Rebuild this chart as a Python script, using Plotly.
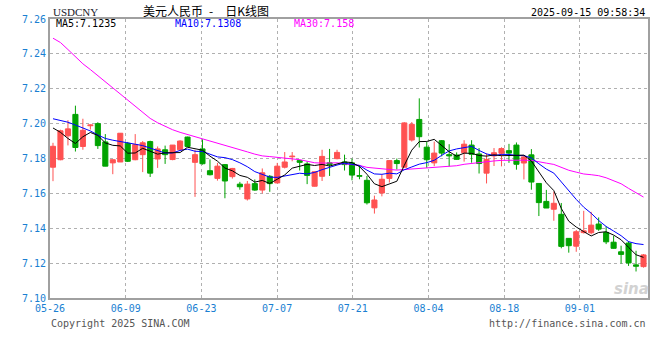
import plotly.graph_objects as go
import pandas as pd

# ---------------- data ----------------
tick_labels = ["05-26", "06-09", "06-23", "07-07", "07-21", "08-04", "08-18", "09-01"]

opens = [
    7.1750, 7.1793, 7.1930, 7.2053, 7.1869, 7.1988, 7.2000, 7.1895, 7.1775, 7.1780,
    7.1887, 7.1793, 7.1822, 7.1897, 7.1797, 7.1850, 7.1794, 7.1850, 7.1923, 7.1778,
    7.1855, 7.1730, 7.1686, 7.1765, 7.1696, 7.1653, 7.1568, 7.1656, 7.1619, 7.1698,
    7.1660, 7.1750, 7.1810, 7.1788, 7.1769, 7.1641, 7.1698, 7.1775, 7.1799, 7.1780,
    7.1775, 7.1702, 7.1675, 7.1517, 7.1602, 7.1686, 7.1788, 7.1750, 7.1906, 7.2024,
    7.1865, 7.1775, 7.1902, 7.1822, 7.1820, 7.1833, 7.1877, 7.1826, 7.1716, 7.1815,
    7.1830, 7.1845, 7.1877, 7.1774, 7.1821, 7.1657, 7.1554, 7.1509, 7.1480, 7.1342,
    7.1297, 7.1375, 7.1374, 7.1424, 7.1376, 7.1320, 7.1265, 7.1315, 7.1190, 7.1180,
]
highs = [
    7.1890, 7.1965, 7.2020, 7.2103, 7.2028, 7.1995, 7.2008, 7.1940, 7.1793, 7.1945,
    7.1895, 7.1940, 7.1900, 7.1902, 7.1869, 7.1874, 7.1877, 7.1905, 7.1925, 7.1850,
    7.1910, 7.1795, 7.1775, 7.1768, 7.1746, 7.1666, 7.1671, 7.1680, 7.1743, 7.1705,
    7.1775, 7.1837, 7.1837, 7.1793, 7.1784, 7.1726, 7.1850, 7.1855, 7.1850, 7.1822,
    7.1800, 7.1761, 7.1700, 7.1587, 7.1709, 7.1790, 7.1800, 7.2008, 7.2009, 7.2145,
    7.1897, 7.1897, 7.1906, 7.1882, 7.1835, 7.1905, 7.1905, 7.1860, 7.1829, 7.1860,
    7.1864, 7.1884, 7.1892, 7.1818, 7.1854, 7.1657, 7.1620, 7.1610, 7.1545, 7.1342,
    7.1390, 7.1500, 7.1494, 7.1462, 7.1411, 7.1357, 7.1300, 7.1326, 7.1271, 7.1252,
]
lows = [
    7.1670, 7.1790, 7.1875, 7.1840, 7.1850, 7.1966, 7.1855, 7.1756, 7.1710, 7.1780,
    7.1780, 7.1790, 7.1722, 7.1694, 7.1746, 7.1769, 7.1790, 7.1847, 7.1865, 7.1580,
    7.1765, 7.1703, 7.1673, 7.1572, 7.1685, 7.1621, 7.1559, 7.1615, 7.1600, 7.1609,
    7.1657, 7.1743, 7.1784, 7.1731, 7.1653, 7.1640, 7.1671, 7.1700, 7.1795, 7.1731,
    7.1675, 7.1681, 7.1536, 7.1484, 7.1583, 7.1662, 7.1737, 7.1748, 7.1897, 7.1863,
    7.1746, 7.1756, 7.1812, 7.1755, 7.1793, 7.1782, 7.1776, 7.1714, 7.1657, 7.1757,
    7.1755, 7.1775, 7.1736, 7.1680, 7.1621, 7.1470, 7.1516, 7.1443, 7.1285, 7.1260,
    7.1265, 7.1370, 7.1365, 7.1385, 7.1309, 7.1284, 7.1197, 7.1184, 7.1152, 7.1174,
]
closes = [
    7.1870, 7.1959, 7.1970, 7.1863, 7.1962, 7.1993, 7.1874, 7.1756, 7.1793, 7.1945,
    7.1784, 7.1880, 7.1890, 7.1716, 7.1855, 7.1822, 7.1877, 7.1900, 7.1869, 7.1822,
    7.1770, 7.1707, 7.1756, 7.1671, 7.1743, 7.1638, 7.1653, 7.1619, 7.1718, 7.1656,
    7.1756, 7.1780, 7.1814, 7.1778, 7.1703, 7.1724, 7.1812, 7.1766, 7.1835, 7.1765,
    7.1705, 7.1698, 7.1546, 7.1562, 7.1681, 7.1788, 7.1771, 7.2004, 7.1996, 7.1925,
    7.1793, 7.1831, 7.1831, 7.1815, 7.1795, 7.1882, 7.1824, 7.1771, 7.1795, 7.1833,
    7.1857, 7.1831, 7.1767, 7.1809, 7.1665, 7.1547, 7.1516, 7.1543, 7.1296, 7.1300,
    7.1380, 7.1385, 7.1418, 7.1395, 7.1322, 7.1285, 7.1250, 7.1201, 7.1182, 7.1247,
]

# moving-average values before a full window exists
ma5_head = [7.1975, 7.1950, 7.1915, 7.1886]
ma10_head = [7.2028, 7.2020, 7.2008, 7.1992, 7.1975, 7.1958, 7.1935, 7.1915, 7.1905]
ma30_head = [
    7.2490, 7.2465, 7.2425, 7.2385, 7.2343, 7.2310, 7.2275, 7.2240, 7.2200, 7.2165,
    7.2130, 7.2095, 7.2060, 7.2030, 7.2005, 7.1985, 7.1965, 7.1950, 7.1938, 7.1925,
    7.1912, 7.1900, 7.1888, 7.1875, 7.1865, 7.1852, 7.1838, 7.1825, 7.1815,
]

legend_texts = ["MA5:7.1235", "MA10:7.1308", "MA30:7.158"]
symbol = "USDCNY"
title = "美元人民币\u2002-\u2003日K线图"
timestamp = "2025-09-15 09:58:34"
copyright_text = "Copyright 2025 SINA.COM"
url_text = "http://finance.sina.com.cn"

# ---------------- derived ----------------
n = len(closes)
idx = list(range(n))
cs = pd.Series(closes)


def moving_average(window, head):
    ma = cs.rolling(window).mean().tolist()
    return head + ma[len(head):]


ma5 = moving_average(5, ma5_head)
ma10 = moving_average(10, ma10_head)
ma30 = moving_average(30, ma30_head)

RED = "#ff5252"
GREEN = "#00a300"
BLUE_TXT = "#1a7fd2"
MONO = "DejaVu Sans Mono"

up = [c >= o for o, c in zip(opens, closes)]
colors = [RED if u else GREEN for u in up]
bases = [min(o, c) for o, c in zip(opens, closes)]
heights = [abs(c - o) for o, c in zip(opens, closes)]

fig = go.Figure()

# wicks
for flag, col in ((True, RED), (False, GREEN)):
    xs, ys = [], []
    for i in idx:
        if up[i] == flag:
            xs += [i, i, None]
            ys += [lows[i], highs[i], None]
    fig.add_trace(go.Scatter(x=xs, y=ys, mode="lines",
                             line=dict(color=col, width=1), hoverinfo="skip"))

# bodies
fig.add_trace(go.Bar(x=idx, y=heights, base=bases, width=0.68,
                     marker=dict(color=colors, line=dict(color=colors, width=1)),
                     hoverinfo="skip"))

# moving averages
fig.add_trace(go.Scatter(x=idx, y=ma30, mode="lines", line=dict(color="#ff00ff", width=1)))
fig.add_trace(go.Scatter(x=idx, y=ma10, mode="lines", line=dict(color="#0000ff", width=1)))
fig.add_trace(go.Scatter(x=idx, y=ma5, mode="lines", line=dict(color="#000000", width=1)))

x_lo, x_hi = -0.4, n - 0.4
grid_step = 10 * (x_hi - x_lo) / (n - 1)
tickvals = [x_lo + k * grid_step for k in range(len(tick_labels))]

axis_common = dict(
    showgrid=True, gridcolor="#b0b0b0", griddash="dot", gridwidth=1,
    showline=True, linecolor="#a0a0a0", linewidth=2, mirror=True,
    zeroline=False, ticks="", fixedrange=True,
    tickfont=dict(family=MONO, size=10, color=BLUE_TXT),
)

fig.update_layout(
    width=660, height=360,
    margin=dict(l=50, r=10, t=19, b=62),
    paper_bgcolor="white", plot_bgcolor="white",
    showlegend=False, barmode="overlay", hovermode=False,
    xaxis=dict(range=[x_lo, x_hi], tickmode="array", tickvals=tickvals,
               ticktext=tick_labels, **axis_common),
    yaxis=dict(range=[7.10, 7.26], tick0=7.10, dtick=0.02, tickformat=".2f",
               **axis_common),
)


def px_x(p):
    return (p - 50) / 600


def px_y(p):
    return (298 - p) / 279


ann = [
    dict(text=symbol, x=px_x(51), y=px_y(12), xanchor="left",
         font=dict(family="Liberation Serif", size=11, color="#1a1a2a")),
    dict(text=title, x=px_x(207), y=px_y(10), xanchor="center",
         font=dict(family="Noto Sans CJK SC", size=12, color="#000000")),
    dict(text=timestamp, x=px_x(649), y=px_y(12), xanchor="right",
         font=dict(family=MONO, size=10, color="#000000")),
    dict(text=legend_texts[0], x=px_x(54), y=px_y(24), xanchor="left",
         font=dict(family=MONO, size=10, color="#000000")),
    dict(text=legend_texts[1], x=px_x(173), y=px_y(24), xanchor="left",
         font=dict(family=MONO, size=10, color="#0000ff")),
    dict(text=legend_texts[2], x=px_x(293), y=px_y(24), xanchor="left",
         font=dict(family=MONO, size=10, color="#ff00ff")),
    dict(text=copyright_text, x=px_x(49), y=px_y(323.5), xanchor="left",
         font=dict(family=MONO, size=10, color="#555555")),
    dict(text=url_text, x=px_x(650), y=px_y(323.5), xanchor="right",
         font=dict(family=MONO, size=10, color="#555555")),
    dict(text="<b><i>sina</i></b>", x=px_x(633), y=px_y(289), xanchor="center",
         font=dict(family="DejaVu Sans", size=15, color="#d2d2d2")),
]
for a in ann:
    fig.add_annotation(xref="paper", yref="paper", yanchor="middle",
                       showarrow=False, **a)

fig.write_html(
    "out.html",
    config={"displayModeBar": False},
    post_script="document.body.style.margin='0px';document.body.style.overflow='hidden';",
)
